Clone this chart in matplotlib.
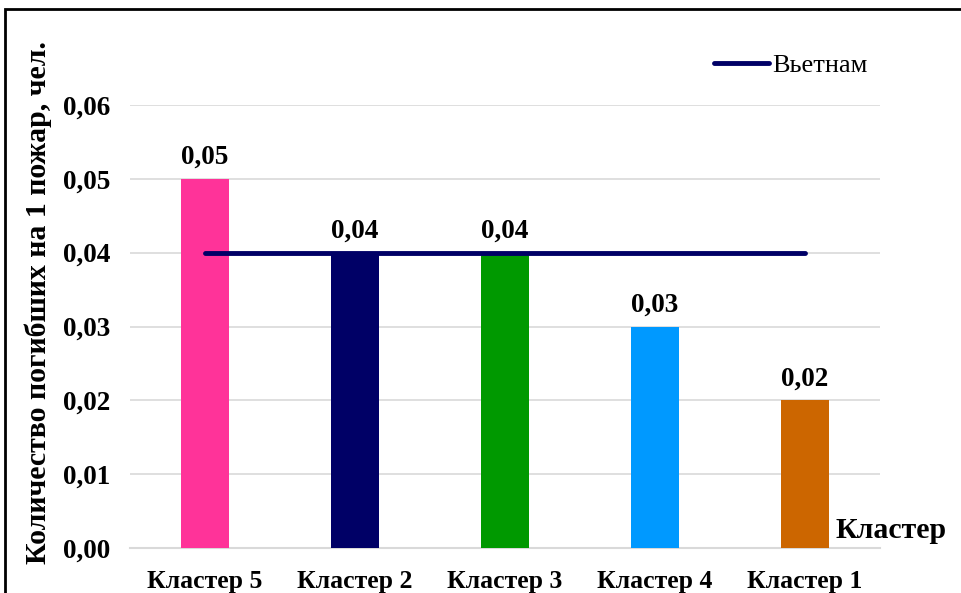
import matplotlib.pyplot as plt
import matplotlib.patches as mpatches
import numpy as np

categories = ["Кластер 5", "Кластер 2", "Кластер 3", "Кластер 4", "Кластер 1"]
values = [0.05, 0.04, 0.04, 0.03, 0.02]
bar_colors = ["#FF3399", "#000066", "#009900", "#0099FF", "#CC6600"]
vietnam_value = 0.04
yticks = [0.00, 0.01, 0.02, 0.03, 0.04, 0.05, 0.06]

plt.rcParams['font.family'] = ['Liberation Serif', 'DejaVu Serif']

W, H = 961, 593
fig = plt.figure(figsize=(W / 100, H / 100), dpi=100)
ax = fig.add_axes([130 / W, 1 - 548 / H, 750 / W, (548 - 105) / H])

x = np.arange(len(categories))
ax.bar(x, values, width=0.32, color=bar_colors, zorder=3)
line, = ax.plot([x[0], x[-1]], [vietnam_value] * 2, color="#000066",
                lw=3.5, solid_capstyle="round", zorder=4, label="Вьетнам")

for xi, v in zip(x, values):
    ax.annotate(f"{v:.2f}".replace(".", ","), (xi, v), xytext=(0, 6.5),
                textcoords="offset points", ha="center", va="bottom",
                fontsize=19.5, fontweight="bold")

ax.set_xlim(-0.5, len(categories) - 0.5)
ax.set_ylim(0, 0.06)
ax.set_yticks(yticks)
ax.set_yticklabels([f"{t:.2f}".replace(".", ",") for t in yticks],
                   fontsize=19.5, fontweight="bold")
ax.set_xticks(x)
ax.set_xticklabels(categories, fontsize=18.5, fontweight="bold")
ax.tick_params(axis="both", length=0)
ax.tick_params(axis="x", pad=16)
ax.tick_params(axis="y", pad=14)
ax.grid(axis="y", color="#D9D9D9", lw=1.2, zorder=0)
for side in ["top", "right", "left"]:
    ax.spines[side].set_visible(False)
ax.spines["bottom"].set_color("#D9D9D9")
ax.spines["bottom"].set_linewidth(1.5)

ax.set_ylabel("Количество погибших на 1 пожар, чел.", fontsize=21.5,
              fontweight="bold")
ax.yaxis.set_label_coords((52 - 130) / 750, (548 - 302) / 443)

fig.text(836 / W, 1 - 530 / H, "Кластер", fontsize=21.5, fontweight="bold",
         ha="left", va="center")

ax.legend(handles=[line], loc="upper left", bbox_to_anchor=(690 / W, 1 - 30 / H),
          bbox_transform=fig.transFigure, frameon=False, fontsize=19,
          handlelength=2.1, handletextpad=0.1)

# frame around the chart area
fig.patches.append(mpatches.Rectangle((5 / W, -0.05), 1.0, 1 - 9 / H + 0.05,
                                      transform=fig.transFigure, fill=False,
                                      edgecolor="black", lw=2))

fig.savefig("out.png", dpi=100)
